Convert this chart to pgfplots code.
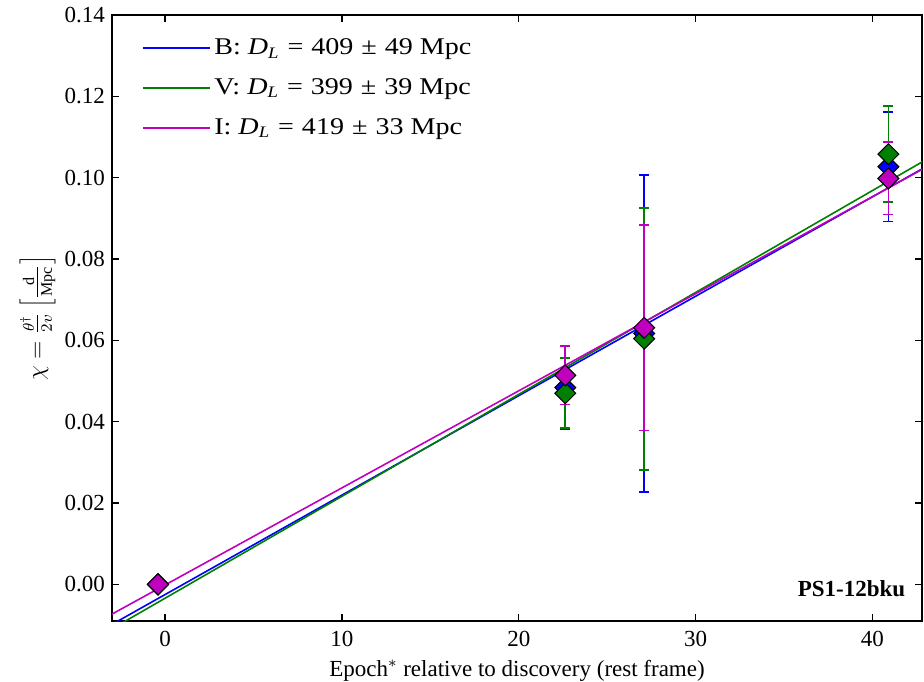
\documentclass[border=0pt]{standalone}
\usepackage{fontspec}
\setmainfont{Liberation Serif}
\newfontfamily\legfont{Liberation Serif}[FakeStretch=1.17]
\usepackage{pgfplots}
\pgfplotsset{compat=1.18}
\definecolor{mb}{rgb}{0,0,1}
\definecolor{mg}{rgb}{0,0.5,0}
\definecolor{mm}{rgb}{0.75,0,0.75}

\pgfplotstableread{
x y e
-0.40 0.0000 0
22.63 0.0484 0.0103
27.09 0.0617 0.0390
40.90 0.1027 0.0135
}\dataB
\pgfplotstableread{
x y e
-0.40 0.0000 0
22.63 0.0470 0.0086
27.09 0.0604 0.0322
40.90 0.1058 0.0118
}\dataV
\pgfplotstableread{
x y e
-0.40 0.0000 0
22.63 0.0514 0.0072
27.09 0.0631 0.0253
40.90 0.0998 0.0089
}\dataI

\begin{document}
\begin{tikzpicture}
\useasboundingbox (-56pt,-30pt) rectangle (406pt,310.5pt);
\begin{axis}[
  scale only axis, width=405pt, height=303pt,
  xmin=-3, xmax=42.8, ymin=-0.009, ymax=0.14,
  xtick={0,10,20,30,40},
  ytick={0,0.02,0.04,0.06,0.08,0.10,0.12,0.14},
  yticklabel style={/pgf/number format/.cd, fixed, fixed zerofill, precision=2},
  xticklabel style={yshift=-1.5pt},
  /pgf/number format/assume math mode=true,
  tick align=inside, major tick length=3.5pt, minor tick num=0,
  axis line style={line width=0.8pt},
  every tick/.style={black, line width=0.6pt},
  font=\fontsize{11.5}{13}\selectfont,
  xlabel={Epoch$^{*}$ relative to discovery (rest frame)},
  ylabel={$\chi = \frac{\theta^{\dagger}}{2v}\left[\frac{\mathrm{d}}{\mathrm{Mpc}}\right]$},
  ylabel style={inner sep=0pt}, ylabel shift=1pt,
  xlabel style={yshift=0pt},
  legend style={at={(rel axis cs:0.03,0.975)}, anchor=north west, draw=none, fill=none,
    row sep=6.5pt, font=\legfont\fontsize{12}{14}\selectfont},
  legend cell align=left,
  legend image code/.code={\draw[#1, line width=0.8pt] (0pt,0pt) -- (20pt,0pt); \path (0pt,0pt) -- (33pt,0pt);},
  clip=true,
]
% fit lines
\addplot[mb, line width=0.8pt] coordinates {(-4,-0.01228) (44,0.10508)};
\addlegendentry{B: \textit{D}\textsubscript{\textit{L}}\,\,=\,\,409\,\,±\,\,49 Mpc}
\addplot[mg, line width=0.8pt] coordinates {(-4,-0.013424) (44,0.106864)};
\addlegendentry{V: \textit{D}\textsubscript{\textit{L}}\,\,=\,\,399\,\,±\,\,39 Mpc}
\addplot[mm, line width=0.8pt] coordinates {(-4,-0.009688) (44,0.104888)};
\addlegendentry{I: \textit{D}\textsubscript{\textit{L}}\,\,=\,\,419\,\,±\,\,33 Mpc}

\addplot[mb, only marks, line width=0.8pt, mark=square*, mark size=3.7pt,
  mark options={rotate=45, fill=mb, draw=black, line width=0.5pt},
  error bars/.cd, y dir=both, y explicit, error mark=-,
  error mark options={mb, line width=0.8pt, mark size=2.5pt, rotate=90},
  error bar style={mb, line width=0.8pt}]
  table[x=x, y=y, y error=e] {\dataB};
\addplot[mg, only marks, line width=0.8pt, mark=square*, mark size=3.7pt,
  mark options={rotate=45, fill=mg, draw=black, line width=0.5pt},
  error bars/.cd, y dir=both, y explicit, error mark=-,
  error mark options={mg, line width=0.8pt, mark size=2.5pt, rotate=90},
  error bar style={mg, line width=0.8pt}]
  table[x=x, y=y, y error=e] {\dataV};
\addplot[mm, only marks, line width=0.8pt, mark=square*, mark size=3.7pt,
  mark options={rotate=45, fill=mm, draw=black, line width=0.5pt},
  error bars/.cd, y dir=both, y explicit, error mark=-,
  error mark options={mm, line width=0.8pt, mark size=2.5pt, rotate=90},
  error bar style={mm, line width=0.8pt}]
  table[x=x, y=y, y error=e] {\dataI};

\node[anchor=east, font=\fontsize{11.5}{13}\selectfont\bfseries] at (rel axis cs:0.988,0.053) {PS1-12bku};
\end{axis}
\end{tikzpicture}
\end{document}
